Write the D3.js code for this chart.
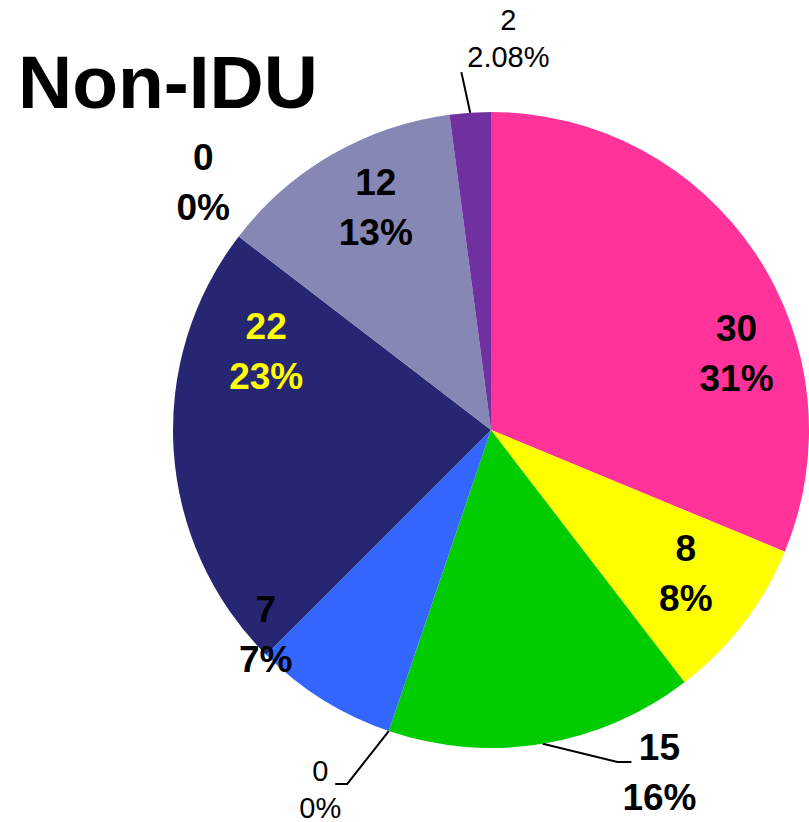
<html>
<script src="https://d3js.org/d3.v7.min.js"></script>
<style>
  body { margin: 0; background: #fff; }
  text { font-family: "Liberation Sans", Arial, sans-serif; }
</style>
<body>
<svg class="chart" width="809" height="822"></svg>
<script>
  const width = 809;
  const height = 822;

  // slices, clockwise from 12 o'clock
  const values = [30, 8, 15, 0, 7, 22, 0, 12, 2];
  const pctLabels = ['31%', '8%', '16%', '0%', '7%', '23%', '0%', '13%', '2.08%'];
  const colors = ['#FF3399', '#FFFF00', '#00CC00', '#3366FF', '#3366FF', '#262673', '#262673', '#8787B5', '#7030A0'];
  const textColors = ['#000', '#000', '#000', '#000', '#000', '#FFFF00', '#000', '#000', '#000'];
  const bold = [true, true, true, false, true, true, true, true, false];
  // label nudges from the arc centroid (Excel-style placement)
  const nudges = [[34, 64], [-7, -12], [127, 91], [-89, 118], [-91, -12], [29, -96], [-86, -93], [12, -3], [34, -138]];
  // leader lines: [elbow dx, dy, end dx, dy] relative to the label
  const leaders = {2: [-42, -10, -28, -10], 3: [27, -5, 15, -5], 8: [-47, 34, -47, 34]};

  const cx = 491, cy = 430, r = 318;
  const svg = d3.select('svg');

  svg.append('text')
    .attr('x', 18).attr('y', 108)
    .attr('font-size', 75).attr('font-weight', 'bold')
    .text('Non-IDU');

  const pie = d3.pie().sort(null).value(d => d);
  const arcs = pie(values);
  const arc = d3.arc().innerRadius(0).outerRadius(r);
  const labelArc = d3.arc().innerRadius(r * 0.8).outerRadius(r * 0.8);
  const edgeArc = d3.arc().innerRadius(r).outerRadius(r);

  const g = svg.append('g').attr('transform', 'translate(' + cx + ',' + cy + ')');

  g.selectAll('path')
    .data(arcs)
    .enter()
    .append('path')
      .attr('d', arc)
      .style('fill', (d, i) => colors[i]);

  arcs.forEach(function(d, i) {
    const c = labelArc.centroid(d);
    const lx = c[0] + nudges[i][0];
    const ly = c[1] + nudges[i][1];
    const size = bold[i] ? 37 : 29;
    const gap = bold[i] ? 50 : 37;
    const cap = size * 0.716;
    const top = ly - (cap + gap) / 2;

    if (leaders[i]) {
      const e = edgeArc.centroid(d);
      const L = leaders[i];
      g.append('polyline')
        .attr('points', [e, [lx + L[0], ly + L[1]], [lx + L[2], ly + L[3]]].map(p => p.join(',')).join(' '))
        .attr('fill', 'none')
        .attr('stroke', '#000')
        .attr('stroke-width', 2);
    }

    const t = g.append('text')
      .attr('text-anchor', 'middle')
      .attr('font-size', size)
      .attr('font-weight', bold[i] ? 'bold' : 'normal')
      .attr('fill', textColors[i]);
    t.append('tspan').attr('x', lx).attr('y', top + cap).text(values[i]);
    t.append('tspan').attr('x', lx).attr('y', top + cap + gap).text(pctLabels[i]);
  });
</script>
</body>
</html>
